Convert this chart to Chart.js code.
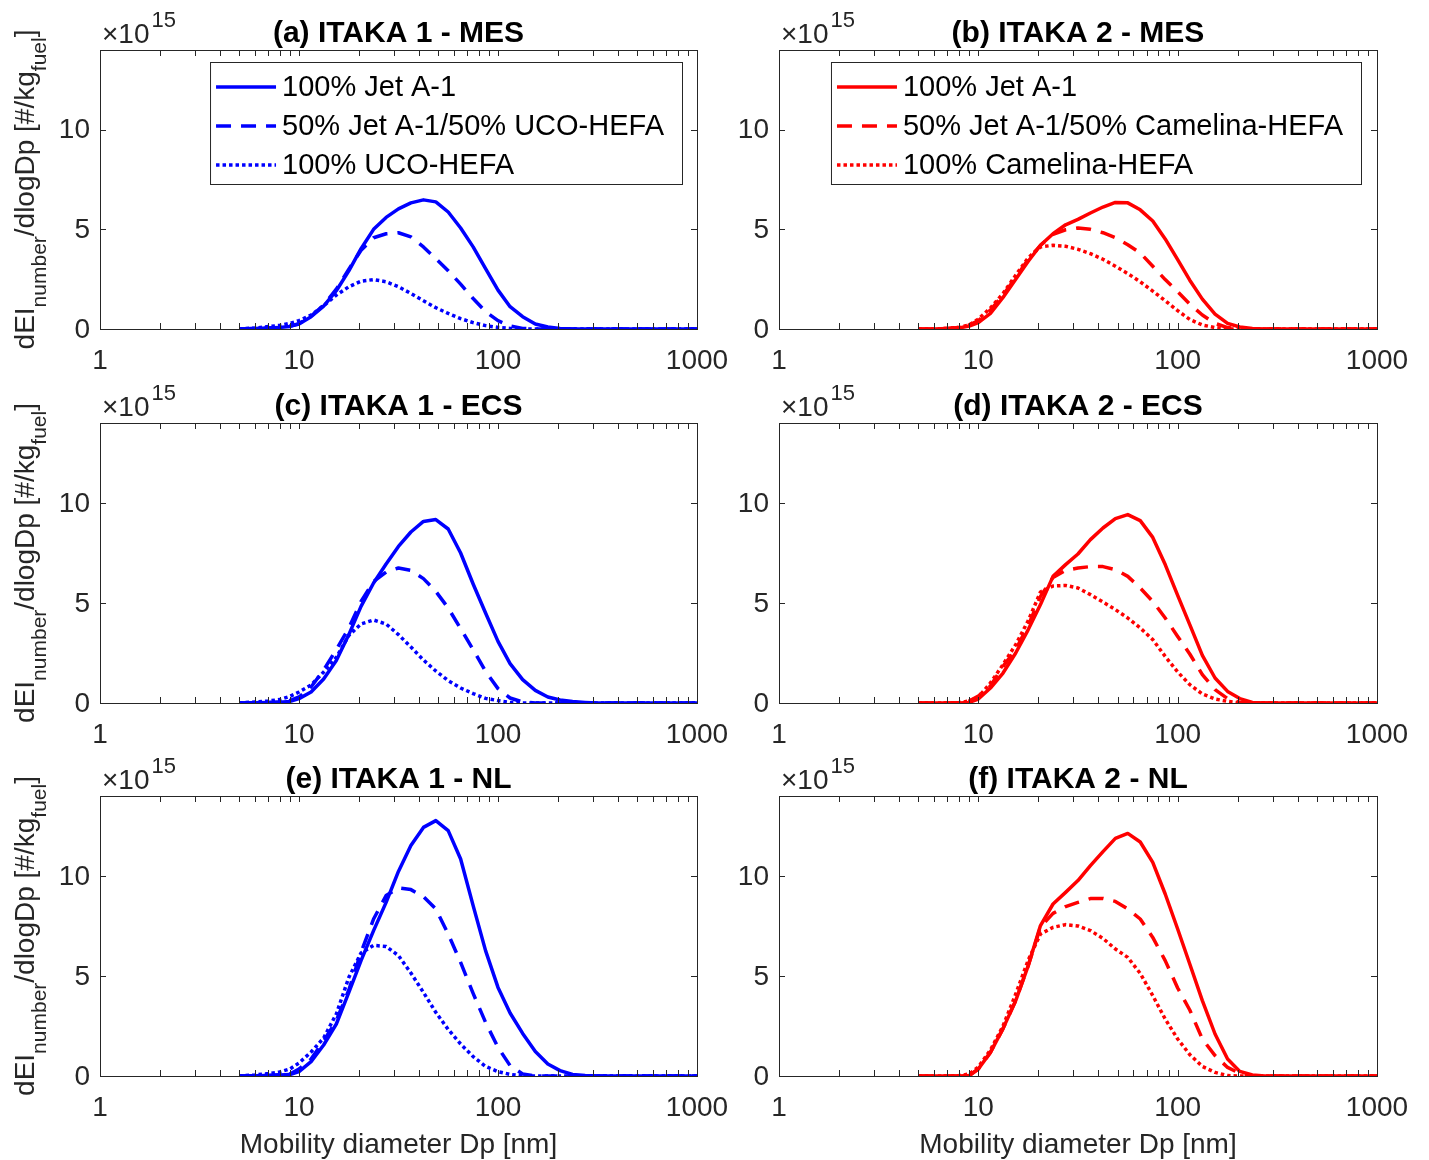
<!DOCTYPE html>
<html>
<head>
<meta charset="utf-8">
<script src="https://cdn.jsdelivr.net/npm/chart.js@4.4.0/dist/chart.umd.min.js"></script>
<style>
  html, body { margin: 0; padding: 0; background: #fff; }
  #wrap { position: relative; width: 1429px; height: 1160px; }
  #wrap canvas { position: absolute; left: 0; top: 0; }
</style>
</head>
<body>
<div id="wrap">
  <canvas id="pa" width="1429" height="1160"></canvas>
  <canvas id="pb" width="1429" height="1160"></canvas>
  <canvas id="pc" width="1429" height="1160"></canvas>
  <canvas id="pd" width="1429" height="1160"></canvas>
  <canvas id="pe" width="1429" height="1160"></canvas>
  <canvas id="pf" width="1429" height="1160"></canvas>
</div>
<script>
// mobility diameter [nm]
const diameters = [5, 6, 7, 8, 9, 10, 11.5, 13.3, 15.4, 17.8, 20.5, 23.7, 27.4, 31.6, 36.5, 42.2, 48.7, 56.2, 64.9, 75, 86.6, 100, 115, 133, 154, 178, 205, 237, 274, 316, 365, 422, 487, 562, 649, 750, 866, 1000];

// dEI/dlogDp, units of 1e15 #/kg_fuel
const itaka1_mes_jet   = [0, 0.02, 0.05, 0.08, 0.13, 0.25, 0.62, 1.15, 1.92, 2.92, 4.03, 5.0, 5.6, 6.03, 6.33, 6.48, 6.38, 5.87, 5.07, 4.12, 3.03, 1.95, 1.12, 0.62, 0.25, 0.1, 0.02, 0, 0, 0, 0, 0, 0, 0, 0, 0, 0, 0];
const itaka1_mes_blend = [0, 0.02, 0.05, 0.08, 0.14, 0.27, 0.64, 1.2, 2.0, 3.0, 3.95, 4.58, 4.78, 4.83, 4.62, 4.12, 3.53, 2.92, 2.25, 1.53, 0.87, 0.42, 0.15, 0.03, 0, 0, 0, 0, 0, 0, 0, 0, 0, 0, 0, 0, 0, 0];
const itaka1_mes_hefa  = [0, 0.05, 0.12, 0.18, 0.28, 0.42, 0.7, 1.17, 1.7, 2.12, 2.4, 2.48, 2.37, 2.12, 1.78, 1.42, 1.07, 0.78, 0.52, 0.32, 0.17, 0.08, 0.03, 0, 0, 0, 0, 0, 0, 0, 0, 0, 0, 0, 0, 0, 0, 0];

const itaka2_mes_jet   = [0, 0, 0.02, 0.05, 0.15, 0.32, 0.78, 1.58, 2.5, 3.4, 4.2, 4.78, 5.23, 5.5, 5.82, 6.12, 6.35, 6.33, 5.98, 5.42, 4.52, 3.48, 2.45, 1.5, 0.75, 0.28, 0.1, 0.02, 0, 0, 0, 0, 0, 0, 0, 0, 0, 0];
const itaka2_mes_blend = [0, 0, 0.03, 0.08, 0.2, 0.42, 0.95, 1.7, 2.58, 3.5, 4.2, 4.75, 4.98, 5.07, 5.0, 4.83, 4.58, 4.23, 3.82, 3.15, 2.48, 1.87, 1.25, 0.7, 0.28, 0.07, 0, 0, 0, 0, 0, 0, 0, 0, 0, 0, 0, 0];
const itaka2_mes_hefa  = [0, 0, 0.03, 0.08, 0.2, 0.5, 1.05, 1.78, 2.7, 3.58, 4.12, 4.2, 4.15, 4.0, 3.78, 3.5, 3.15, 2.78, 2.37, 1.9, 1.42, 0.92, 0.48, 0.2, 0.07, 0, 0, 0, 0, 0, 0, 0, 0, 0, 0, 0, 0, 0];

const itaka1_ecs_jet   = [0, 0.01, 0.02, 0.04, 0.08, 0.22, 0.55, 1.2, 2.12, 3.42, 4.83, 6.0, 6.95, 7.83, 8.55, 9.08, 9.17, 8.7, 7.5, 5.95, 4.5, 3.08, 1.97, 1.17, 0.63, 0.3, 0.15, 0.07, 0.03, 0, 0, 0, 0, 0, 0, 0, 0, 0];
const itaka1_ecs_blend = [0, 0.01, 0.02, 0.05, 0.12, 0.3, 0.8, 1.65, 2.67, 3.75, 5.08, 6.08, 6.55, 6.75, 6.63, 6.22, 5.58, 4.75, 3.72, 2.67, 1.58, 0.72, 0.25, 0.05, 0, 0, 0, 0, 0, 0, 0, 0, 0, 0, 0, 0, 0, 0];
const itaka1_ecs_hefa  = [0, 0.05, 0.1, 0.17, 0.33, 0.55, 0.9, 1.55, 2.28, 3.38, 3.95, 4.15, 3.95, 3.42, 2.8, 2.15, 1.6, 1.12, 0.75, 0.47, 0.23, 0.12, 0.03, 0, 0, 0, 0, 0, 0, 0, 0, 0, 0, 0, 0, 0, 0, 0];

const itaka2_ecs_jet   = [0, 0, 0, 0, 0.03, 0.2, 0.75, 1.5, 2.5, 3.67, 4.92, 6.33, 6.92, 7.45, 8.17, 8.75, 9.22, 9.42, 9.12, 8.28, 6.92, 5.38, 3.92, 2.38, 1.25, 0.58, 0.22, 0.03, 0, 0, 0, 0, 0, 0, 0, 0, 0, 0];
const itaka2_ecs_blend = [0, 0, 0, 0.02, 0.1, 0.35, 0.85, 1.83, 2.67, 3.88, 5.33, 6.28, 6.63, 6.75, 6.82, 6.82, 6.67, 6.33, 5.75, 5.08, 4.25, 3.33, 2.45, 1.42, 0.67, 0.22, 0.03, 0, 0, 0, 0, 0, 0, 0, 0, 0, 0, 0];
const itaka2_ecs_hefa  = [0, 0, 0, 0.02, 0.1, 0.3, 1.0, 1.92, 2.92, 4.12, 5.55, 5.85, 5.88, 5.75, 5.42, 5.05, 4.67, 4.25, 3.75, 3.17, 2.33, 1.55, 0.92, 0.45, 0.2, 0.08, 0, 0, 0, 0, 0, 0, 0, 0, 0, 0, 0, 0];

const itaka1_nl_jet    = [0, 0.01, 0.03, 0.05, 0.07, 0.22, 0.72, 1.55, 2.6, 4.18, 5.77, 7.27, 8.68, 10.23, 11.52, 12.43, 12.77, 12.27, 10.85, 8.52, 6.27, 4.43, 3.15, 2.13, 1.23, 0.6, 0.27, 0.08, 0.02, 0, 0, 0, 0, 0, 0, 0, 0, 0];
const itaka1_nl_blend  = [0, 0.01, 0.03, 0.06, 0.1, 0.35, 0.85, 1.75, 2.77, 4.3, 6.18, 7.85, 9.02, 9.4, 9.32, 8.97, 8.35, 7.1, 5.68, 4.13, 2.68, 1.43, 0.52, 0.1, 0, 0, 0, 0, 0, 0, 0, 0, 0, 0, 0, 0, 0, 0];
const itaka1_nl_hefa   = [0, 0.05, 0.12, 0.2, 0.35, 0.65, 1.2, 1.9, 3.1, 4.93, 6.15, 6.53, 6.48, 6.02, 5.15, 4.18, 3.18, 2.33, 1.6, 0.97, 0.48, 0.22, 0.08, 0, 0, 0, 0, 0, 0, 0, 0, 0, 0, 0, 0, 0, 0, 0];

const itaka2_nl_jet    = [0, 0, 0, 0, 0.02, 0.35, 1.18, 2.37, 3.77, 5.52, 7.52, 8.6, 9.18, 9.77, 10.52, 11.22, 11.88, 12.13, 11.7, 10.68, 9.1, 7.35, 5.6, 3.77, 2.1, 0.85, 0.23, 0.05, 0, 0, 0, 0, 0, 0, 0, 0, 0, 0];
const itaka2_nl_blend  = [0, 0, 0, 0, 0.02, 0.35, 1.18, 2.37, 3.77, 5.52, 7.45, 8.13, 8.47, 8.68, 8.87, 8.88, 8.73, 8.35, 7.85, 6.93, 5.77, 4.4, 3.3, 1.85, 1.02, 0.43, 0.13, 0, 0, 0, 0, 0, 0, 0, 0, 0, 0, 0];
const itaka2_nl_hefa   = [0, 0, 0, 0.02, 0.1, 0.45, 1.3, 2.5, 4.1, 5.8, 7.1, 7.43, 7.57, 7.5, 7.27, 6.88, 6.35, 5.93, 5.13, 4.02, 2.85, 1.85, 1.07, 0.48, 0.18, 0.02, 0, 0, 0, 0, 0, 0, 0, 0, 0, 0, 0, 0];

const xTickValues = [1, 10, 100, 1000];
const xTickLabels = ['1', '10', '100', '1000'];
const yTickValues = [0, 5, 10];
const yTickLabels = ['0', '5', '10'];

const legendUCO = ['100% Jet A-1', '50% Jet A-1/50% UCO-HEFA', '100% UCO-HEFA'];
const legendCamelina = ['100% Jet A-1', '50% Jet A-1/50% Camelina-HEFA', '100% Camelina-HEFA'];

const FONT = "'Liberation Sans', Arial, Helvetica, sans-serif";
const AXIS_COLOR = '#262626';
const dashStyles = [[], [15, 10], [3.5, 3]];

// minor ticks of the log axis: 2..9 of every decade
const xMinorTicks = [];
for (let dec = 1; dec < 1000; dec *= 10) {
    for (let m = 2; m <= 9; m++) xMinorTicks.push(m * dec);
}

function drawYLabel(ctx, x, y) {
    // dEI_number/dlogDp [#/kg_fuel], rotated
    const parts = [
        ['dEI', false], ['number', true], ['/dlogDp [#/kg', false], ['fuel', true], [']', false]
    ];
    const mainFont = '28px ' + FONT, subFont = '21px ' + FONT;
    let total = 0;
    for (const [t, sub] of parts) {
        ctx.font = sub ? subFont : mainFont;
        total += ctx.measureText(t).width;
    }
    ctx.save();
    ctx.translate(x, y);
    ctx.rotate(-Math.PI / 2);
    ctx.fillStyle = AXIS_COLOR;
    ctx.textBaseline = 'alphabetic';
    ctx.textAlign = 'left';
    let pos = -total / 2;
    for (const [t, sub] of parts) {
        ctx.font = sub ? subFont : mainFont;
        ctx.fillText(t, pos, sub ? 12 : 0);
        pos += ctx.measureText(t).width;
    }
    ctx.restore();
}

const decorPlugin = {
    id: 'decor',
    afterDraw(chart, args, opts) {
        const ctx = chart.ctx;
        const { left, right, top, bottom } = chart.chartArea;
        const xs = chart.scales.x, ys = chart.scales.y;
        const tick = 6;
        ctx.save();

        // axes box
        ctx.strokeStyle = AXIS_COLOR;
        ctx.lineWidth = 1;
        ctx.strokeRect(left + 0.5, top + 0.5, right - left, bottom - top);

        // x ticks (top and bottom, inward)
        ctx.beginPath();
        for (const v of xTickValues.concat(xMinorTicks)) {
            const px = Math.round(xs.getPixelForValue(v)) + 0.5;
            ctx.moveTo(px, bottom); ctx.lineTo(px, bottom - tick);
            ctx.moveTo(px, top); ctx.lineTo(px, top + tick);
        }
        // y ticks (left and right, inward)
        for (const v of yTickValues) {
            const py = Math.round(ys.getPixelForValue(v)) + 0.5;
            ctx.moveTo(left, py); ctx.lineTo(left + tick, py);
            ctx.moveTo(right, py); ctx.lineTo(right - tick, py);
        }
        ctx.stroke();

        // tick labels
        ctx.fillStyle = AXIS_COLOR;
        ctx.font = '28px ' + FONT;
        ctx.textAlign = 'center';
        ctx.textBaseline = 'alphabetic';
        xTickValues.forEach((v, i) => {
            ctx.fillText(xTickLabels[i], xs.getPixelForValue(v), bottom + 40);
        });
        ctx.textAlign = 'right';
        ctx.textBaseline = 'middle';
        yTickValues.forEach((v, i) => {
            ctx.fillText(yTickLabels[i], left - 10, ys.getPixelForValue(v) + 1);
        });

        // exponent marker x10^15
        ctx.textAlign = 'left';
        ctx.textBaseline = 'alphabetic';
        ctx.font = '28px ' + FONT;
        const base = '\u00d710';
        ctx.fillText(base, left + 2, top - 7);
        const bw = ctx.measureText(base).width;
        ctx.font = '22px ' + FONT;
        ctx.fillText('15', left + 4 + bw, top - 23);

        // title
        ctx.font = 'bold 30px ' + FONT;
        ctx.textAlign = 'center';
        ctx.fillStyle = '#000';
        ctx.fillText(opts.title, (left + right) / 2, top - 8);

        // y axis label (left column only)
        if (opts.yTitle) drawYLabel(ctx, left - 66, (top + bottom) / 2);

        // x axis title
        if (opts.xTitle) {
            ctx.font = '28px ' + FONT;
            ctx.fillStyle = AXIS_COLOR;
            ctx.textAlign = 'center';
            ctx.fillText('Mobility diameter Dp [nm]', (left + right) / 2, bottom + 77);
        }

        // legend
        if (opts.legend) {
            ctx.font = '29px ' + FONT;
            let tw = 0;
            for (const t of opts.legend) tw = Math.max(tw, ctx.measureText(t).width);
            const bx1 = left + 582;
            const bx0 = bx1 - tw - 90;
            const by0 = top + 12, by1 = top + 134;
            ctx.fillStyle = '#fff';
            ctx.fillRect(bx0, by0, bx1 - bx0, by1 - by0);
            ctx.strokeStyle = AXIS_COLOR;
            ctx.lineWidth = 1;
            ctx.strokeRect(bx0 + 0.5, by0 + 0.5, bx1 - bx0, by1 - by0);
            opts.legend.forEach((t, i) => {
                const ry = top + 37 + i * 39;
                ctx.beginPath();
                ctx.strokeStyle = opts.color;
                ctx.lineWidth = 3.5;
                ctx.lineCap = 'butt';
                ctx.setLineDash(dashStyles[i]);
                ctx.moveTo(bx0 + 6, ry);
                ctx.lineTo(bx0 + 66, ry);
                ctx.stroke();
                ctx.setLineDash([]);
                ctx.fillStyle = '#000';
                ctx.textAlign = 'left';
                ctx.textBaseline = 'middle';
                ctx.fillText(t, bx0 + 72, ry + 1);
            });
        }
        ctx.restore();
    }
};

function makePanel(id, cfg) {
    const series = [cfg.jet, cfg.blend, cfg.hefa];
    const datasets = series.map((vals, i) => ({
        data: diameters.map((d, k) => ({ x: d, y: vals[k] })),
        borderColor: cfg.color,
        borderWidth: 3.5,
        borderDash: dashStyles[i],
        borderCapStyle: 'butt',
        borderJoinStyle: 'round',
        pointRadius: 0,
        tension: 0,
        fill: false
    }));
    return new Chart(document.getElementById(id), {
        type: 'line',
        data: { datasets: datasets },
        options: {
            responsive: false,
            animation: false,
            events: [],
            layout: { padding: cfg.padding },
            scales: {
                x: { type: 'logarithmic', min: 1, max: 1000, display: false },
                y: { type: 'linear', min: 0, max: 14, display: false }
            },
            plugins: {
                legend: { display: false },
                tooltip: { enabled: false },
                decor: { title: cfg.title, color: cfg.color, legend: cfg.legend, xTitle: cfg.xTitle, yTitle: cfg.yTitle }
            }
        },
        plugins: [decorPlugin]
    });
}

const BLUE = '#0000ff', RED = '#ff0000';
const colLeft = { left: 100, right: 732 };
const colRight = { left: 779, right: 52 };
const rowPad = [{ top: 50, bottom: 831 }, { top: 423, bottom: 457 }, { top: 796, bottom: 84 }];
const pad = (c, r) => ({ left: c.left, right: c.right, top: r.top, bottom: r.bottom });

makePanel('pa', { title: '(a) ITAKA 1 - MES', color: BLUE, jet: itaka1_mes_jet, blend: itaka1_mes_blend, hefa: itaka1_mes_hefa, legend: legendUCO, yTitle: true, padding: pad(colLeft, rowPad[0]) });
makePanel('pb', { title: '(b) ITAKA 2 - MES', color: RED, jet: itaka2_mes_jet, blend: itaka2_mes_blend, hefa: itaka2_mes_hefa, legend: legendCamelina, padding: pad(colRight, rowPad[0]) });
makePanel('pc', { title: '(c) ITAKA 1 - ECS', color: BLUE, jet: itaka1_ecs_jet, blend: itaka1_ecs_blend, hefa: itaka1_ecs_hefa, yTitle: true, padding: pad(colLeft, rowPad[1]) });
makePanel('pd', { title: '(d) ITAKA 2 - ECS', color: RED, jet: itaka2_ecs_jet, blend: itaka2_ecs_blend, hefa: itaka2_ecs_hefa, padding: pad(colRight, rowPad[1]) });
makePanel('pe', { title: '(e) ITAKA 1 - NL', color: BLUE, jet: itaka1_nl_jet, blend: itaka1_nl_blend, hefa: itaka1_nl_hefa, xTitle: true, yTitle: true, padding: pad(colLeft, rowPad[2]) });
makePanel('pf', { title: '(f) ITAKA 2 - NL', color: RED, jet: itaka2_nl_jet, blend: itaka2_nl_blend, hefa: itaka2_nl_hefa, xTitle: true, padding: pad(colRight, rowPad[2]) });
</script>
</body>
</html>
